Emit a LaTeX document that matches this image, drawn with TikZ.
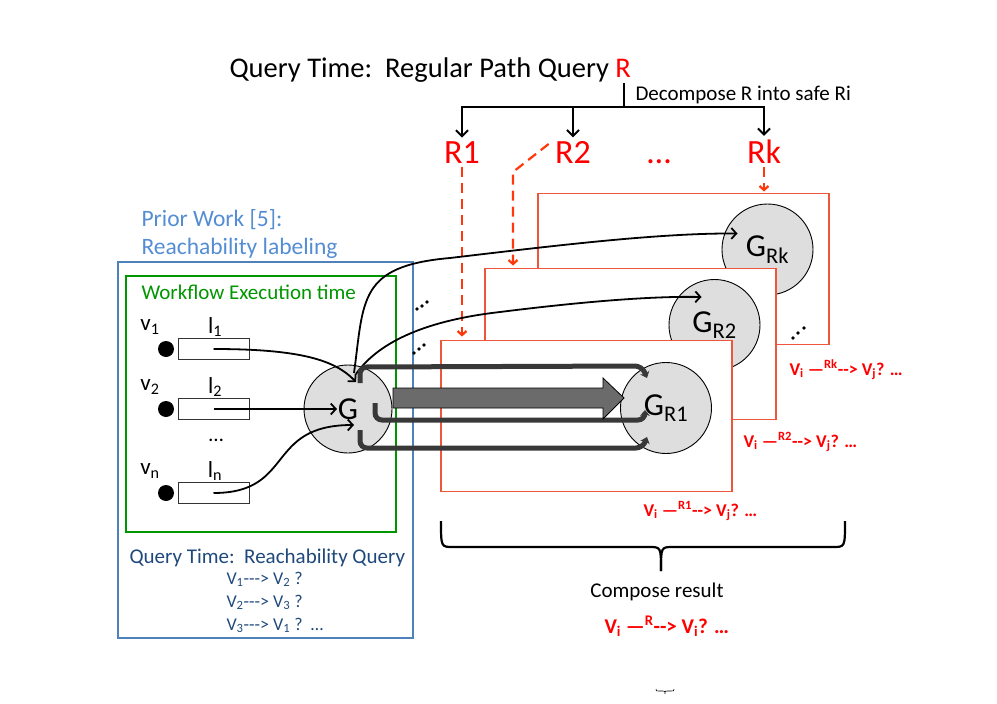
\documentclass[tikz,border=0pt]{standalone}
\usepackage{fontspec}
\setmainfont{Carlito}
\usepackage{xcolor}
\usepackage{tikz}
\usetikzlibrary{arrows.meta,calc}

\definecolor{frameblue}{RGB}{79,129,189}
\definecolor{priorblue}{RGB}{84,141,212}
\definecolor{querynavy}{RGB}{31,73,125}
\definecolor{wfgreen}{RGB}{0,150,0}
\definecolor{redtext}{RGB}{255,0,0}
\definecolor{boxred}{RGB}{240,85,60}
\definecolor{dashred}{RGB}{255,55,10}

\newcommand{\fsz}[1]{\fontsize{#1}{#1}\selectfont}

\tikzset{
  gnode/.style={circle, draw=black, line width=0.9pt, fill=black!13, inner sep=0pt, font=\fsz{32}},
  rbox/.style={draw=boxred, line width=1.2pt, fill=white, inner sep=0pt, outer sep=0pt, minimum width=291pt, minimum height=151pt},
  lbox/.style={draw=black!80, line width=1pt, fill=white, inner sep=0pt, minimum width=71pt, minimum height=21pt},
  vdot/.style={circle, fill=black, inner sep=0pt, minimum size=16pt},
  flow/.style={line width=1.8pt, -{Straight Barb[length=5pt,width=11pt]}},
  decomp/.style={line width=2pt},
  rdash/.style={draw=dashred, line width=2.2pt, dash pattern=on 10pt off 6pt, -{Straight Barb[length=4pt,width=9pt]}},
  gpath/.style={draw=black!78, line width=5pt, rounded corners=7pt, -{Stealth[length=6pt,width=10pt]}},
  rlabel/.style={text=redtext, font=\fsz{34}, anchor=base},
  reslabel/.style={text=redtext, font=\bfseries\fsz{18}, anchor=base west},
  qline/.style={text=querynavy, font=\fsz{18}, anchor=base west},
}

\begin{document}
\begin{tikzpicture}[x=1pt, y=-1pt]
    % Page
    \useasboundingbox (0,0) rectangle (997,704);

    % Title and decomposition
    \node[font=\fsz{28.5}, anchor=base west] (title) at (226,77) {Query Time:\ \ Regular Path Query \textcolor{redtext}{R}};
    \node[font=\fsz{21}, anchor=base west] (decomp) at (632,100) {Decompose R into safe Ri};
    \node[rlabel] (R1) at (462,163) {R1};
    \node[rlabel] (R2) at (573,163) {R2};
    \node[rlabel] (Rdots) at (659,163) {…};
    \node[rlabel] (Rk) at (764,163) {Rk};
    \coordinate (qR) at (624,83);
    \coordinate (fork) at (624,107);
    \draw[decomp] (qR) -- (fork);
    \draw[decomp, -{Straight Barb[length=6pt,width=12pt]}] (fork) -| (R1.north);
    \draw[decomp, -{Straight Barb[length=6pt,width=12pt]}] (fork) -| (R2.north);
    \draw[decomp, -{Straight Barb[length=6pt,width=12pt]}] (fork) -| (Rk.north);

    % Prior work box
    \node[text=priorblue, font=\fsz{23.5}, anchor=base west] (prior) at (138,226) {Prior Work [5]:};
    \node[text=priorblue, font=\fsz{23.5}, anchor=base west] (reach) at (138,254) {Reachability labeling};
    \draw[frameblue, line width=2.5pt] (118,262) rectangle (413,638);
    \draw[wfgreen, line width=1.2pt] (126,276) rectangle (396,532);
    \node[text=wfgreen, font=\fsz{21}, anchor=base west] (wf) at (138,299) {Workflow Execution time};

    % Red result boxes (back to front)
    \node[rbox] (boxRk) at (683.5,269) {};
    \node[gnode, minimum size=91pt] (GRk) at (767.5,249.5) {G\textsubscript{Rk}};
    \node[rbox] (boxR2) at (630.5,344) {};
    \node[gnode, minimum size=91pt] (GR2) at (714.5,325) {G\textsubscript{R2}};
    \node[rbox] (boxR1) at (586.5,416) {};
    \node[gnode, minimum size=91pt] (GR1) at (666,408) {G\textsubscript{R1}};

    % Red dashed links
    \coordinate (r2bend) at (513,172);
    \draw[rdash] (R1.south) -- ($(R1.south |- boxR1.north)+(0,-4)$);
    \draw[rdash] ($(R2.west)+(-3,-8)$) -- (r2bend) -- ($(r2bend |- boxR2.north)+(0,-3)$);
    \draw[rdash] (Rk.south) -- ($(Rk.south |- boxRk.north)+(0,-2)$);

    % Workflow graph
    \node[gnode, minimum size=88pt] (G) at (348,409) {G};
    \foreach \i/\y/\lab in {1/349/1, 2/409/2, 3/493/n} {
        \node[vdot] (vdot\i) at (166,\y) {};
        \node[lbox] (lbox\i) at (213.5,\y) {};
        \node[font=\fsz{23}] (vlab\i) at (150,\y-22) {v\textsubscript{\lab}};
        \node[font=\fsz{23}] (llab\i) at (215,\y-22) {l\textsubscript{\lab}};
    }
    \node[font=\fsz{21}] (ldots) at (216,440) {…};

    \draw[flow] (lbox1.center) .. controls (300,349) and (335,360) .. ($(G)+(8,-27)$);
    \draw[flow] (lbox2.center) -- ($(G)+(-11,0)$);
    \draw[flow] (lbox3.center) .. controls (295,493) and (265,425) .. ($(G)+(6,16)$);

    % Links to the other safe queries
    \draw[flow] ($(G)+(6,-36)$) .. controls (364,300) and (358,266) .. (450,258)
        .. controls (560,245) and (660,233) .. ($(GRk)+(-30,-16)$);
    \draw[flow] ($(G)+(8,-35)$) .. controls (380,340) and (430,320) .. (500,312)
        .. controls (580,302) and (650,296) .. ($(GR2)+(-13,-28)$);

    % Thick paths G to G_R1
    \draw[gpath] ($(G)+(12,-26)$) -- ($(G)+(12,-42)$) -- ($(GR1)+(-24,-42)$) -- ($(GR1)+(-19,-30)$);
    \draw[gpath] ($(G)+(27,-6)$) -- ($(G)+(27,11)$) -- ($(GR1)+(-21,12)$) -- ($(GR1)+(-21,2)$);
    \draw[gpath] ($(G)+(12,21)$) -- ($(G)+(12,39)$) -- ($(GR1)+(-23,40)$) -- ($(GR1)+(-19,29)$);
    \draw[fill=black!58, draw=black, line width=0.8pt] (393,388) -- (603,388) -- (603,378)
        -- (624,398) -- (603,419) -- (603,408) -- (393,408) -- cycle;

    % Dots between layers
    \foreach \x/\y in {793/338, 798/333, 804/328, 417/309, 422/306, 427/302, 414/353, 419/349, 424/345}
        \fill (\x,\y) circle (1.8pt);

    % Partial results
    \node[reslabel] (resRk) at (786,375) {V\textsubscript{i} —\textsuperscript{Rk}-{}-> V\textsubscript{j}? …};
    \node[reslabel] (resR2) at (740,447) {V\textsubscript{i} —\textsuperscript{R2}-{}-> V\textsubscript{j}? …};
    \node[reslabel] (resR1) at (640,516) {V\textsubscript{i} —\textsuperscript{R1}-{}-> V\textsubscript{j}? …};

    % Compose brace
    \draw[line width=2.2pt] (441,521) .. controls (441,547) and (441,547) .. (453,547) -- (649,547)
        .. controls (661,547) and (661,547) .. (661,571);
    \draw[line width=2.2pt] (845,521) .. controls (845,547) and (845,547) .. (833,547) -- (673,547)
        .. controls (661,547) and (661,547) .. (661,571);
    \node[font=\fsz{21}, anchor=base] (compose) at (657,597) {Compose result};
    \node[text=redtext, font=\bfseries\fsz{21}, anchor=base west] (final) at (601,633) {V\textsubscript{i} —\textsuperscript{R}-{}-> V\textsubscript{i}? …};
    \draw[line width=0.6pt] (656,689) .. controls (656,691) .. (659,691) -- (663,691) .. controls (665,691) .. (665,694)
        .. controls (665,691) .. (667,691) -- (671,691) .. controls (674,691) .. (674,689);

    % Reachability queries
    \node[text=querynavy, font=\fsz{21}, anchor=base west] (qtime) at (126,563) {Query Time:\ \ Reachability Query};
    \node[qline] (q1) at (223,584) {V\textsubscript{1}-{}-{}-> V\textsubscript{2} ?};
    \node[qline] (q2) at (223,607) {V\textsubscript{2}-{}-{}-> V\textsubscript{3} ?};
    \node[qline] (q3) at (223,630) {V\textsubscript{3}-{}-{}-> V\textsubscript{1} ?\ \ …};
\end{tikzpicture}
\end{document}
